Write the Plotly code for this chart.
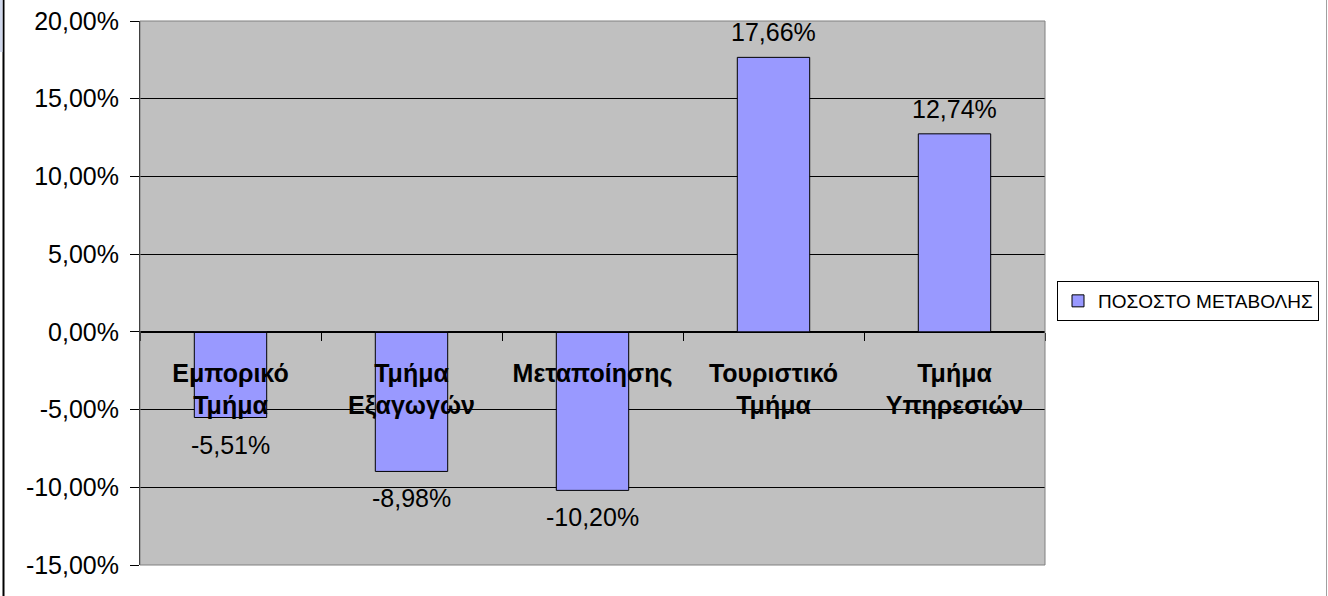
import plotly.graph_objects as go

categories = ["Εμπορικό<br>Τμήμα", "Τμήμα<br>Εξαγωγών", "Μεταποίησης", "Τουριστικό<br>Τμήμα", "Τμήμα<br>Υπηρεσιών"]
values = [-0.0551, -0.0898, -0.1020, 0.1766, 0.1274]
series_name = "ΠΟΣΟΣΤΟ ΜΕΤΑΒΟΛΗΣ"
y_ticks = [-0.15, -0.10, -0.05, 0.0, 0.05, 0.10, 0.15, 0.20]


def pct(v):
    return f"{v*100:.2f}%".replace(".", ",")


FONT = "Arial, Liberation Sans, sans-serif"
W, H = 1328, 596
L, R, T, B = 140, 283, 21, 31
pw = W - L - R
ph = H - T - B

fig = go.Figure()
fig.add_trace(go.Bar(
    x=categories, y=values, name=series_name,
    marker=dict(color="#9999FF", line=dict(color="black", width=1)),
    width=0.4,
    showlegend=True,
))

# data labels
for c, v in zip(categories, values):
    fig.add_annotation(
        x=c, y=v, xref="x", yref="y",
        text=pct(v),
        showarrow=False,
        font=dict(family=FONT, size=25, color="black"),
        yanchor="bottom" if v >= 0 else "top",
        yshift=9 if v >= 0 else -11,
    )

zero_pos = (0 - y_ticks[0]) / (y_ticks[-1] - y_ticks[0])

fig.update_layout(
    width=W, height=H,
    margin=dict(l=L, r=R, t=T, b=B, autoexpand=False),
    paper_bgcolor="white",
    plot_bgcolor="#C0C0C0",
    separators=",.",
    font=dict(family=FONT, size=25, color="black"),
    bargap=0.6,
    xaxis=dict(
        type="category",
        anchor="free", position=zero_pos,
        showline=True, linecolor="black", linewidth=1,
        ticks="outside", ticklen=8, tickcolor="black", tickwidth=1,
        tickson="boundaries",
        tickfont=dict(family=FONT, size=25, color="black", weight="bold"),
        ticklabelstandoff=19,
        showgrid=False,
        zeroline=False,
        range=[-0.5, 4.5],
    ),
    yaxis=dict(
        range=[y_ticks[0], y_ticks[-1]],
        tickvals=y_ticks,
        ticktext=[pct(t) for t in y_ticks],
        showline=True, linecolor="black", linewidth=1,
        ticks="outside", ticklen=9, tickcolor="black",
        showgrid=True, gridcolor="black", gridwidth=1,
        zeroline=True, zerolinecolor="black", zerolinewidth=1,
        tickfont=dict(family=FONT, size=25, color="black"),
        ticklabelstandoff=6,
    ),
    legend=dict(
        x=(1057 - L) / pw, y=(H - B - 281) / ph,
        xanchor="left", yanchor="top",
        bordercolor="black", borderwidth=1,
        bgcolor="white",
        font=dict(family=FONT, size=19, color="black"),
        itemwidth=30,
        tracegroupgap=0,
    ),
    shapes=[
        # plot-area border (top/right/bottom grey)
        dict(type="rect", xref="paper", yref="paper", x0=0, x1=1, y0=0, y1=1,
             line=dict(color="#808080", width=1), layer="above"),
        # chart outer border
        dict(type="line", xref="paper", yref="paper",
             x0=(3.5 - L) / pw, x1=(3.5 - L) / pw, y0=-B / ph, y1=(H - B) / ph,
             line=dict(color="black", width=2)),
        dict(type="line", xref="paper", yref="paper",
             x0=(1326.5 - L) / pw, x1=(1326.5 - L) / pw, y0=-B / ph, y1=(H - B) / ph,
             line=dict(color="#A0A0A0", width=1)),
        dict(type="rect", xref="paper", yref="paper",
             x0=(0 - L) / pw, x1=(2.5 - L) / pw, y0=(H - B - 52) / ph, y1=(H - B) / ph,
             line=dict(width=0), fillcolor="#D0D8EC"),
    ],
)

fig.write_html(
    "out.html",
    config={"displayModeBar": False},
    post_script="document.body.style.margin='0';document.body.style.overflow='hidden';",
)
